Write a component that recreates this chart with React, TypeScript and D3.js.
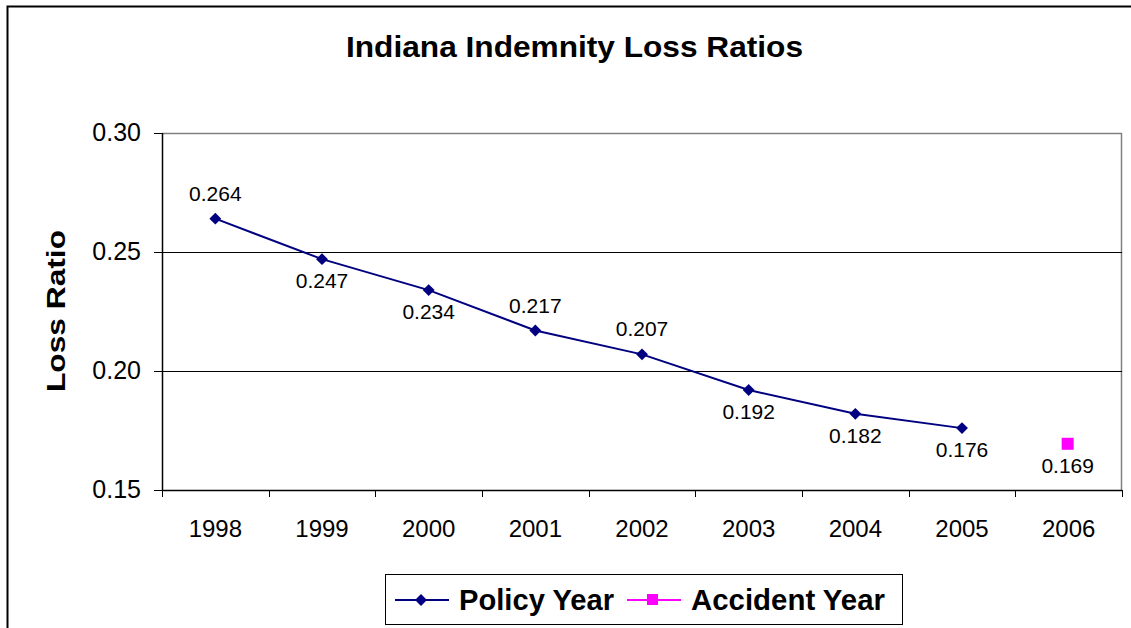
import { useEffect, useRef } from 'react';
import * as d3 from 'd3';

const years = ['1998', '1999', '2000', '2001', '2002', '2003', '2004', '2005', '2006'];
const policyYear = [0.264, 0.247, 0.234, 0.217, 0.207, 0.192, 0.182, 0.176];
const policyLabelPos = ['above', 'below', 'below', 'above', 'above', 'below', 'below', 'below'];
const accidentYear = [{ year: '2006', value: 0.169 }];
const yTicks = [0.15, 0.2, 0.25, 0.3];

export default function App() {
    const svgRef = useRef<SVGSVGElement>(null);
    const width = 1131;
    const height = 628;
    const margin = { top: 133, right: 9, bottom: 138, left: 162 };

    useEffect(() => {
        document.body.style.margin = '0';
        if (!svgRef.current) return;
        const svg = d3.select(svgRef.current);
        svg.selectAll('*').remove();

        const font = 'Arial, "Liberation Sans", sans-serif';
        const x0 = margin.left;
        const x1 = width - margin.right;
        const y0 = height - margin.bottom;
        const y1 = margin.top;

        const x = d3.scaleBand().domain(years).range([x0, x1]);
        const y = d3.scaleLinear().domain([0.15, 0.3]).range([y0, y1]);
        const cx = (d: string) => (x(d) as number) + x.bandwidth() / 2;

        // outer border (clipped on right/bottom)
        svg.append('rect')
            .attr('x', 7.5).attr('y', 6.5)
            .attr('width', width + 10).attr('height', height + 10)
            .attr('fill', 'none').attr('stroke', '#000').attr('stroke-width', 2);

        // title (stretched like the original)
        svg.append('text')
            .attr('x', 346).attr('y', 57)
            .attr('textLength', 457).attr('lengthAdjust', 'spacingAndGlyphs')
            .attr('font-family', font).attr('font-size', 30).attr('font-weight', 'bold')
            .text('Indiana Indemnity Loss Ratios');

        // plot frame
        svg.append('line').attr('x1', x0).attr('x2', x1).attr('y1', y1 + 0.5).attr('y2', y1 + 0.5)
            .attr('stroke', '#808080').attr('stroke-width', 1.5);
        svg.append('line').attr('x1', x1 - 0.5).attr('x2', x1 - 0.5).attr('y1', y1).attr('y2', y0)
            .attr('stroke', '#808080').attr('stroke-width', 1.5);

        // gridlines
        svg.append('g').selectAll('line')
            .data(yTicks.filter(t => t > 0.15 && t < 0.3))
            .enter().append('line')
            .attr('x1', x0).attr('x2', x1)
            .attr('y1', d => Math.round(y(d)) + 0.5).attr('y2', d => Math.round(y(d)) + 0.5)
            .attr('stroke', '#000').attr('stroke-width', 1);

        // y axis
        const yAxis = svg.append('g').attr('transform', `translate(${x0},0)`);
        yAxis.append('line').attr('x1', 0.5).attr('x2', 0.5).attr('y1', y1).attr('y2', y0 + 1)
            .attr('stroke', '#000').attr('stroke-width', 1.5);
        yAxis.selectAll('line.tick').data(yTicks).enter().append('line')
            .attr('class', 'tick')
            .attr('x1', -8).attr('x2', 0)
            .attr('y1', d => Math.round(y(d)) + 0.5).attr('y2', d => Math.round(y(d)) + 0.5)
            .attr('stroke', '#000');
        yAxis.selectAll('text').data(yTicks).enter().append('text')
            .attr('x', -21).attr('y', d => y(d) + 8)
            .attr('text-anchor', 'end')
            .attr('font-family', font).attr('font-size', 25)
            .text(d => d3.format('.2f')(d));

        // x axis
        const xAxis = svg.append('g').attr('transform', `translate(0,${y0})`);
        xAxis.append('line').attr('x1', x0).attr('x2', x1).attr('y1', 0.5).attr('y2', 0.5)
            .attr('stroke', '#000').attr('stroke-width', 1.5);
        const bounds = years.map(d => x(d) as number).concat([x1]);
        xAxis.selectAll('line.tick').data(bounds).enter().append('line')
            .attr('class', 'tick')
            .attr('x1', d => Math.round(d) + 0.5).attr('x2', d => Math.round(d) + 0.5)
            .attr('y1', 0).attr('y2', 7)
            .attr('stroke', '#000');
        xAxis.selectAll('text').data(years).enter().append('text')
            .attr('x', d => cx(d)).attr('y', 47)
            .attr('text-anchor', 'middle')
            .attr('font-family', font).attr('font-size', 24)
            .text(d => d);

        // y axis title
        svg.append('text')
            .attr('transform', `translate(65,392) rotate(-90)`)
            .attr('textLength', 162).attr('lengthAdjust', 'spacingAndGlyphs')
            .attr('font-family', font).attr('font-size', 26).attr('font-weight', 'bold')
            .text('Loss Ratio');

        // policy year line
        const line = d3.line<number>()
            .x((_, i) => cx(years[i]))
            .y(d => y(d));
        svg.append('path')
            .datum(policyYear)
            .attr('d', line)
            .attr('fill', 'none').attr('stroke', '#000080').attr('stroke-width', 2);

        const diamond = d3.symbol().type(d3.symbolDiamond2).size(90);
        svg.append('g').selectAll('path')
            .data(policyYear)
            .enter().append('path')
            .attr('d', diamond)
            .attr('transform', (d, i) => `translate(${cx(years[i])},${y(d)})`)
            .attr('fill', '#000080');

        svg.append('g').selectAll('text')
            .data(policyYear)
            .enter().append('text')
            .attr('x', (_, i) => cx(years[i]))
            .attr('y', (d, i) => y(d) + (policyLabelPos[i] === 'above' ? -18 : 29))
            .attr('text-anchor', 'middle')
            .attr('font-family', font).attr('font-size', 21)
            .text(d => d3.format('.3f')(d));

        // accident year
        svg.append('g').selectAll('rect')
            .data(accidentYear)
            .enter().append('rect')
            .attr('x', d => cx(d.year) - 7).attr('y', d => y(d.value) - 7)
            .attr('width', 12).attr('height', 12)
            .attr('fill', '#FF00FF');
        svg.append('g').selectAll('text')
            .data(accidentYear)
            .enter().append('text')
            .attr('x', d => cx(d.year) - 1)
            .attr('y', d => y(d.value) + 28)
            .attr('text-anchor', 'middle')
            .attr('font-family', font).attr('font-size', 21)
            .text(d => d3.format('.3f')(d.value));

        // legend
        const lg = svg.append('g').attr('transform', 'translate(385,574)');
        lg.append('rect').attr('x', 0.5).attr('y', 0.5).attr('width', 517).attr('height', 50)
            .attr('fill', '#fff').attr('stroke', '#000').attr('stroke-width', 1);
        const items = [
            { name: 'Policy Year', color: '#000080', x: 10, shape: 'diamond', len: 155 },
            { name: 'Accident Year', color: '#FF00FF', x: 242, shape: 'square', len: 194 },
        ];
        items.forEach(it => {
            const g = lg.append('g').attr('transform', `translate(${it.x},26)`);
            g.append('line').attr('x1', 0).attr('x2', 54).attr('y1', 0).attr('y2', 0)
                .attr('stroke', it.color).attr('stroke-width', 2);
            if (it.shape === 'diamond') {
                g.append('path').attr('d', diamond).attr('transform', 'translate(26,0)').attr('fill', it.color);
            } else {
                g.append('rect').attr('x', 20).attr('y', -6).attr('width', 11).attr('height', 11).attr('fill', it.color);
            }
            g.append('text')
                .attr('x', 64).attr('y', 10)
                .attr('textLength', it.len).attr('lengthAdjust', 'spacingAndGlyphs')
                .attr('font-family', font).attr('font-size', 29).attr('font-weight', 'bold')
                .text(it.name);
        });
    }, []);

    return <svg ref={svgRef} width={width} height={height} style={{ display: 'block', background: '#fff' }} />;
}
